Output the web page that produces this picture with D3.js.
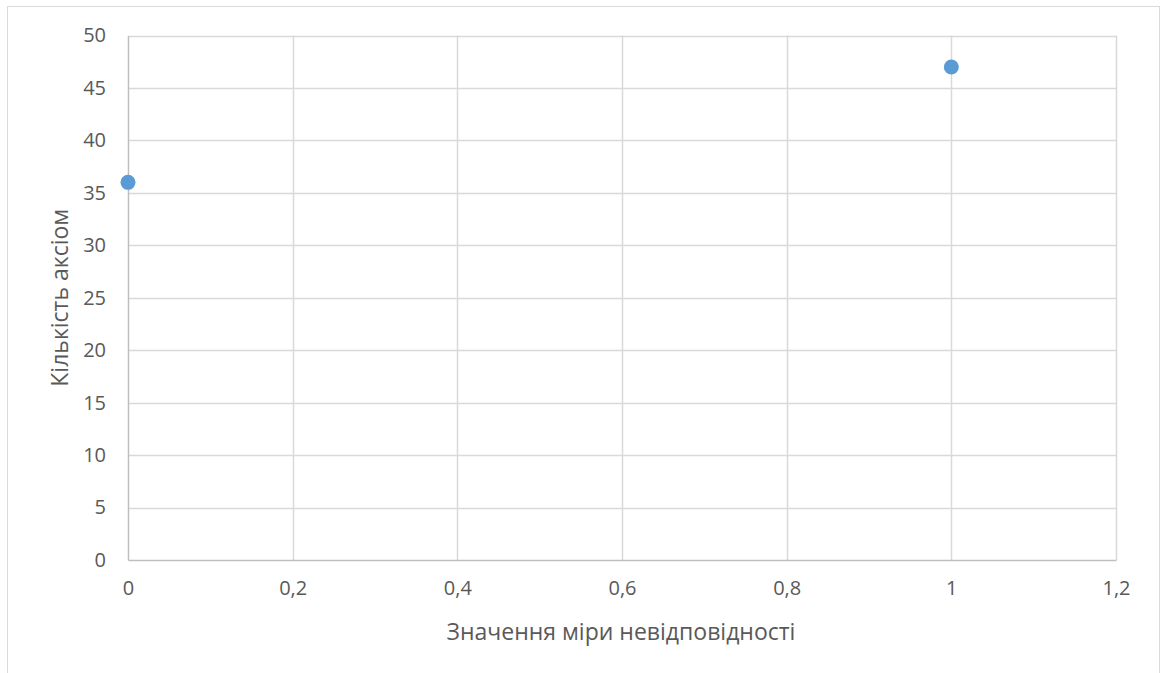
<!DOCTYPE html>
<html>
<head>
<meta charset="utf-8">
<script src="https://cdn.jsdelivr.net/npm/d3@7"></script>
<style>
  html, body { margin: 0; padding: 0; background: #fff; }
  svg { display: block; }
  text { font-family: "Open Sans", "Noto Sans", sans-serif; fill: #595959; }
</style>
</head>
<body>
<svg id="chart" width="1164" height="673"></svg>
<script>
// Scatter data: inconsistency measure vs. number of axioms
const xValues = [0, 1];
const yValues = [36, 47];
const xTicks = [0, 0.2, 0.4, 0.6, 0.8, 1, 1.2];
const yTicks = [0, 5, 10, 15, 20, 25, 30, 35, 40, 45, 50];
const xTitle = "Значення міри невідповідності";
const yTitle = "Кількість аксіом";

const svg = d3.select("#chart");
const plot = { left: 128, right: 1116, top: 35.5, bottom: 560 };

// outer chart frame
svg.append("rect")
  .attr("x", 7.5).attr("y", 6.5)
  .attr("width", 1152).attr("height", 680)
  .attr("fill", "#fff")
  .attr("stroke", "#d9d9d9").attr("stroke-width", 1);

const x = d3.scaleLinear().domain([0, 1.2]).range([plot.left, plot.right]);
const y = d3.scaleLinear().domain([0, 50]).range([plot.bottom, plot.top]);

const fmt = d => String(+d.toFixed(1)).replace(".", ",");

// gridlines
const grid = svg.append("g");
grid.selectAll(".hg").data(yTicks.filter(d => d > 0)).join("line")
  .attr("x1", plot.left).attr("x2", plot.right)
  .attr("y1", d => Math.round(y(d)) + 0.5).attr("y2", d => Math.round(y(d)) + 0.5)
  .attr("stroke", "#d9d9d9").attr("stroke-width", 1.5);
grid.selectAll(".vg").data(xTicks.filter(d => d > 0)).join("line")
  .attr("x1", d => Math.round(x(d)) + 0.5).attr("x2", d => Math.round(x(d)) + 0.5)
  .attr("y1", plot.top).attr("y2", plot.bottom)
  .attr("stroke", "#d9d9d9").attr("stroke-width", 1.5);

// axes
const xAxis = svg.append("g")
  .attr("transform", `translate(0,${plot.bottom})`)
  .call(d3.axisBottom(x).tickValues(xTicks).tickFormat(fmt).tickSize(0).tickPadding(21));
const yAxis = svg.append("g")
  .attr("transform", `translate(${plot.left},0)`)
  .call(d3.axisLeft(y).tickValues(yTicks).tickFormat(d => d).tickSize(0).tickPadding(22));

[xAxis, yAxis].forEach(g => {
  g.select(".domain").attr("stroke", "#bfbfbf").attr("stroke-width", 1.5);
  g.selectAll("text").attr("font-size", 20).attr("fill", "#595959")
    .attr("font-family", "'Open Sans', sans-serif");
});

// axis titles
svg.append("text")
  .attr("x", (plot.left + plot.right) / 2 - 1).attr("y", 640)
  .attr("text-anchor", "middle").attr("font-size", 23)
  .text(xTitle);
svg.append("text")
  .attr("transform", `translate(68,${(plot.top + plot.bottom) / 2}) rotate(-90)`)
  .attr("text-anchor", "middle").attr("font-size", 23)
  .text(yTitle);

// points
const pts = xValues.map((v, i) => ({ x: v, y: yValues[i] }));
svg.append("g").selectAll("circle").data(pts).join("circle")
  .attr("cx", d => x(d.x)).attr("cy", d => y(d.y))
  .attr("r", 7.5)
  .attr("fill", "#5b9bd5");
</script>
</body>
</html>
